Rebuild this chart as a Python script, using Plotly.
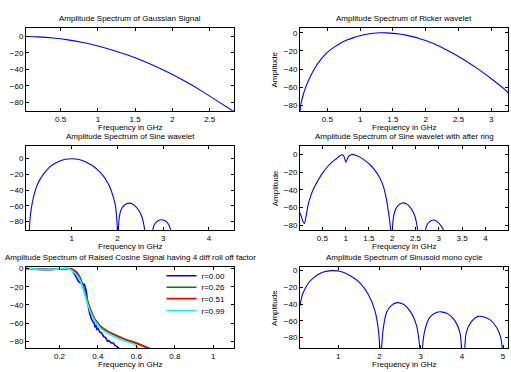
import plotly.graph_objects as go

# ---------------- data ----------------
gauss_f = [0.036, 0.2, 0.4, 0.6, 0.8, 1.0, 1.2, 1.4, 1.6, 1.8, 2.0, 2.2, 2.4, 2.6, 2.826]
gauss_db = [0, -0.5, -1.9, -4.2, -7.4, -11.6, -16.7, -22.7, -29.7, -37.6, -46.4, -56.1, -66.8, -78.4, -91.5]

ricker_f = [0.084, 0.1, 0.13, 0.17, 0.21, 0.3, 0.4, 0.5, 0.6, 0.7, 0.8, 0.9, 1.0, 1.1, 1.2, 1.3,
            1.4, 1.5, 1.6, 1.7, 1.8, 1.9, 2.0, 2.2, 2.4, 2.6, 2.8, 3.0, 3.2, 3.254]
ricker_db = [-86, -78, -69, -60, -53, -40, -29.5, -21.5, -16, -11.5, -8, -5.3, -3.3, -1.6, -0.5, 0,
             -0.1, -0.6, -1.4, -2.6, -4.2, -6.2, -8.5, -14.5, -22, -30.5, -40, -50.5, -62, -66]

sine_f = [0.073, 0.09, 0.12, 0.16, 0.22, 0.3, 0.4, 0.52, 0.62, 0.74, 0.86, 1.0, 1.14, 1.26, 1.38,
          1.48, 1.58, 1.69, 1.78, 1.84, 1.9, 1.95, 1.98, 2.0, None,
          2.02, 2.04, 2.08, 2.14, 2.2, 2.26, 2.32, 2.4, 2.48, 2.54, 2.58, 2.6, None,
          2.77, 2.8, 2.85, 2.9, 2.96, 3.02, 3.08, 3.13, 3.17]
sine_db = [-92, -76, -62, -50, -37.5, -27, -18.5, -10.5, -6.5, -3, -0.8, 0, -0.8, -3, -6.5,
           -10, -15, -22, -30, -37, -47, -58, -72, -92, None,
           -92, -75, -65, -60, -57.5, -56.7, -57.5, -61, -67, -75, -85, -92, None,
           -92, -85, -81, -78.7, -77.9, -78.5, -81, -85, -92]

ring_f = [0.021, 0.05, 0.08, 0.114, 0.15, 0.19, 0.236, 0.3, 0.379, 0.48, 0.593, 0.7, 0.807, 0.87,
          0.914, 0.96, 1.007, 1.06, 1.129, 1.2, 1.307, 1.42, 1.52, 1.63, 1.73, 1.81, 1.87, 1.94, 1.97, None,
          2.0, 2.03, 2.08, 2.15, 2.22, 2.3, 2.38, 2.45, 2.51, 2.55, None,
          2.71, 2.74, 2.8, 2.88, 2.95, 3.02, 3.08, 3.11]
ring_db = [-66, -70, -75, -78, -70, -58, -49, -40, -32, -23, -15, -9, -4.5, -1.8,
           -0.3, -1.5, -8.7, -2.5, 0, -0.5, -3, -7, -11.3, -18, -26, -36, -49, -72, -87, None,
           -87, -70, -61, -56.5, -54.7, -55.5, -59, -65, -74, -87, None,
           -87, -80, -76, -74, -75, -78.5, -83, -87]

rc_f_r000 = [0.026, 0.06, 0.1, 0.15, 0.2, 0.24, 0.26, 0.27, 0.28, 0.29, 0.30, 0.31, 0.32, 0.33, 0.34,
             0.345, 0.355, 0.365, 0.375, 0.38, 0.385, 0.39, 0.395, 0.40, 0.41, 0.42, 0.43, 0.44, 0.45,
             0.46, 0.47, 0.48, 0.49, 0.50, 0.51, 0.52]
rc_db_r000 = [0, -0.3, -1, -1, -0.3, 0, -0.5, -3, -7, -11, -14.5, -16, -16.5, -17.5, -25,
              -35, -47, -55, -59, -60, -64, -63, -67, -66, -70, -71, -75, -76, -80,
              -80, -82, -82, -85, -86, -88, -90]

rc_f_r026 = [0.026, 0.06, 0.1, 0.15, 0.2, 0.25, 0.27, 0.29, 0.30, 0.31, 0.32, 0.33, 0.34, 0.35, 0.36,
             0.37, 0.38, 0.39, 0.40, 0.413, 0.45, 0.50, 0.55, 0.587, 0.63, 0.68]
rc_db_r026 = [0, -0.3, -1, -1, -0.3, 0, -1, -4, -7, -11, -17, -24, -31, -38, -44,
              -49.5, -54, -57.5, -60, -63.5, -69, -74, -78.5, -81, -84.5, -89]

rc_f_r051 = [0.026, 0.06, 0.1, 0.15, 0.2, 0.25, 0.27, 0.29, 0.30, 0.31, 0.32, 0.33, 0.34, 0.35, 0.36,
             0.37, 0.38, 0.39, 0.40, 0.413, 0.45, 0.50, 0.55, 0.587, 0.63, 0.675]
rc_db_r051 = [0, -0.3, -1, -1, -0.3, 0, -1.2, -5, -8, -12.5, -18.5, -25.5, -32, -39, -45,
              -50, -54.5, -58, -60.5, -64, -69.5, -74.5, -79, -81.5, -85, -89]

rc_f_r099 = [0.026, 0.06, 0.1, 0.15, 0.2, 0.24, 0.26, 0.28, 0.30, 0.31, 0.32, 0.33, 0.34, 0.35, 0.36,
             0.37, 0.38, 0.39, 0.40, 0.413, 0.45, 0.50, 0.55, 0.587, 0.62]
rc_db_r099 = [0, -0.3, -1, -1, -0.3, 0, -1.5, -5, -10, -14, -20, -27, -34, -41, -47,
              -52, -56, -59.5, -62, -65.5, -71, -76.5, -80.5, -83.3, -89]

mono_f = [0.07, 0.12, 0.19, 0.28, 0.39, 0.5, 0.64, 0.84, 1.04, 1.28, 1.53, 1.73, 1.89, 1.97, 2.01, None,
          2.05, 2.09, 2.17, 2.29, 2.43, 2.58, 2.74, 2.9, 2.98, None,
          3.04, 3.1, 3.22, 3.38, 3.5, 3.67, 3.83, 3.95, 3.99, None,
          4.07, 4.11, 4.23, 4.39, 4.52, 4.68, 4.84, 4.94, 4.98]
mono_db = [-42, -30, -22, -14.5, -9, -5, -1.6, 0, -0.8, -5.9, -14.8, -28.5, -48, -69.5, -93, None,
           -93, -69.5, -50, -41.4, -38.2, -40.2, -48, -65.6, -93, None,
           -93, -71.4, -55.8, -50, -49.2, -51.9, -59.7, -73.4, -93, None,
           -93, -73.4, -60.9, -54.6, -55, -58.5, -67.5, -79, -93]

rc_labels = ["r=0.00", "r=0.26", "r=0.51", "r=0.99"]
rc_colors = ["#0000ff", "#008000", "#ff0000", "#00ffff"]

titles = ["Amplitude Spectrum of Gaussian Signal",
          "Amplitude Spectrum of Ricker wavelet",
          "Amplitude Spectrum of Sine wavelet",
          "Amplitude Spectrum of Sine wavelet with after ring",
          "Amplitude Spectrum of Raised Cosine Signal having 4 diff roll off factor",
          "Amplitude Spectrum of Sinusoid mono cycle"]
xlabel = "Frequency in GHz"
ylabel = "Amplitude"

x_ranges = [[0.036, 2.826], [0.084, 3.254], [0.0, 4.55], [0.021, 4.486], [0.026, 1.108], [0.07, 5.12]]
y_ranges = [[-91.2, 10.5], [-86.5, 5.5], [-91.5, 16], [-85.7, 9.4], [-88.1, 1.4], [-92.9, 3.9]]
x_ticks = [[0.5, 1, 1.5, 2, 2.5], [0.5, 1, 1.5, 2, 2.5, 3], [1, 2, 3, 4],
           [0.5, 1, 1.5, 2, 2.5, 3, 3.5, 4], [0.2, 0.4, 0.6, 0.8, 1], [1, 2, 3, 4, 5]]
y_ticks = [-80, -60, -40, -20, 0]

# ---------------- layout geometry ----------------
W, H = 511, 372
col_px = [(26, 234), (300, 508)]
row_px = [(25, 109.3), (144.3, 229.3), (266.5, 348.3)]

FONT = "Liberation Sans, Arial, Helvetica, sans-serif"
fig = go.Figure()

blue = "#0000ff"
series = [(gauss_f, gauss_db), (ricker_f, ricker_db), (sine_f, sine_db), (ring_f, ring_db), None, (mono_f, mono_db)]

for i in range(6):
    n = "" if i == 0 else str(i + 1)
    if series[i] is not None:
        fx, fy = series[i]
        fig.add_trace(go.Scatter(x=fx, y=fy, mode="lines", line=dict(color=blue, width=1.1, shape="spline", smoothing=0.8),
                                 xaxis="x" + n, yaxis="y" + n, showlegend=False, hoverinfo="skip"))

rc_data = [(rc_f_r000, rc_db_r000), (rc_f_r026, rc_db_r026), (rc_f_r051, rc_db_r051), (rc_f_r099, rc_db_r099)]
legend_y_px = [275, 286.5, 298, 310]
for k, (fx, fy) in enumerate(rc_data):
    lg = "legend" if k == 0 else "legend" + str(k + 1)
    fig.add_trace(go.Scatter(x=fx, y=fy, mode="lines", name=rc_labels[k],
                             line=dict(color=rc_colors[k], width=1.6, shape="spline" if k else "linear", smoothing=0.6),
                             xaxis="x5", yaxis="y5", legend=lg, hoverinfo="skip"))

layout = dict(width=W, height=H, margin=dict(l=0, r=0, t=0, b=0),
              paper_bgcolor="white", plot_bgcolor="white",
              font=dict(family=FONT, size=8, color="black"), showlegend=True)

for i in range(6):
    r, c = divmod(i, 2)
    x0, x1 = col_px[c]
    y0, y1 = row_px[r]
    n = "" if i == 0 else str(i + 1)
    common = dict(ticks="inside", ticklen=3, tickwidth=1, tickcolor="black", showline=True,
                  linecolor="black", linewidth=1, mirror="ticks", showgrid=False, zeroline=False,
                  tickfont=dict(size=8, color="black", family=FONT))
    layout["xaxis" + n] = dict(domain=[x0 / W, x1 / W], range=x_ranges[i], tickvals=x_ticks[i],
                               anchor="y" + n, **common)
    layout["yaxis" + n] = dict(domain=[1 - y1 / H, 1 - y0 / H], range=y_ranges[i], tickvals=y_ticks,
                               anchor="x" + n, **common)

for k in range(4):
    lg = "legend" if k == 0 else "legend" + str(k + 1)
    layout[lg] = dict(x=161.5 / W, xanchor="left", y=1 - legend_y_px[k] / H, yanchor="middle",
                      bgcolor="rgba(0,0,0,0)", borderwidth=0, font=dict(size=8, family=FONT, color="black"),
                      itemwidth=30)

fig.update_layout(**layout)

ann = []
for i in range(6):
    r, c = divmod(i, 2)
    x0, x1 = col_px[c]
    y0, y1 = row_px[r]
    cx = (x0 + x1) / 2 / W
    ann.append(dict(text=titles[i], x=cx, y=1 - (y0 - 9.5) / H, xref="paper", yref="paper",
                    xanchor="center", yanchor="middle", showarrow=False, font=dict(size=8, family=FONT)))
    ann.append(dict(text=xlabel, x=cx, y=1 - (y1 + 16) / H, xref="paper", yref="paper",
                    xanchor="center", yanchor="middle", showarrow=False, font=dict(size=8, family=FONT)))
    if c == 1:
        ann.append(dict(text=ylabel, x=275 / W, y=1 - (y0 + y1) / 2 / H, xref="paper", yref="paper",
                        xanchor="center", yanchor="middle", textangle=-90, showarrow=False,
                        font=dict(size=8, family=FONT)))
fig.update_layout(annotations=ann)

fig.write_html("out.html", config={"displayModeBar": False, "staticPlot": True},
               post_script="document.body.style.margin='0';document.body.style.padding='0';"
                           "document.body.style.overflow='hidden';")
